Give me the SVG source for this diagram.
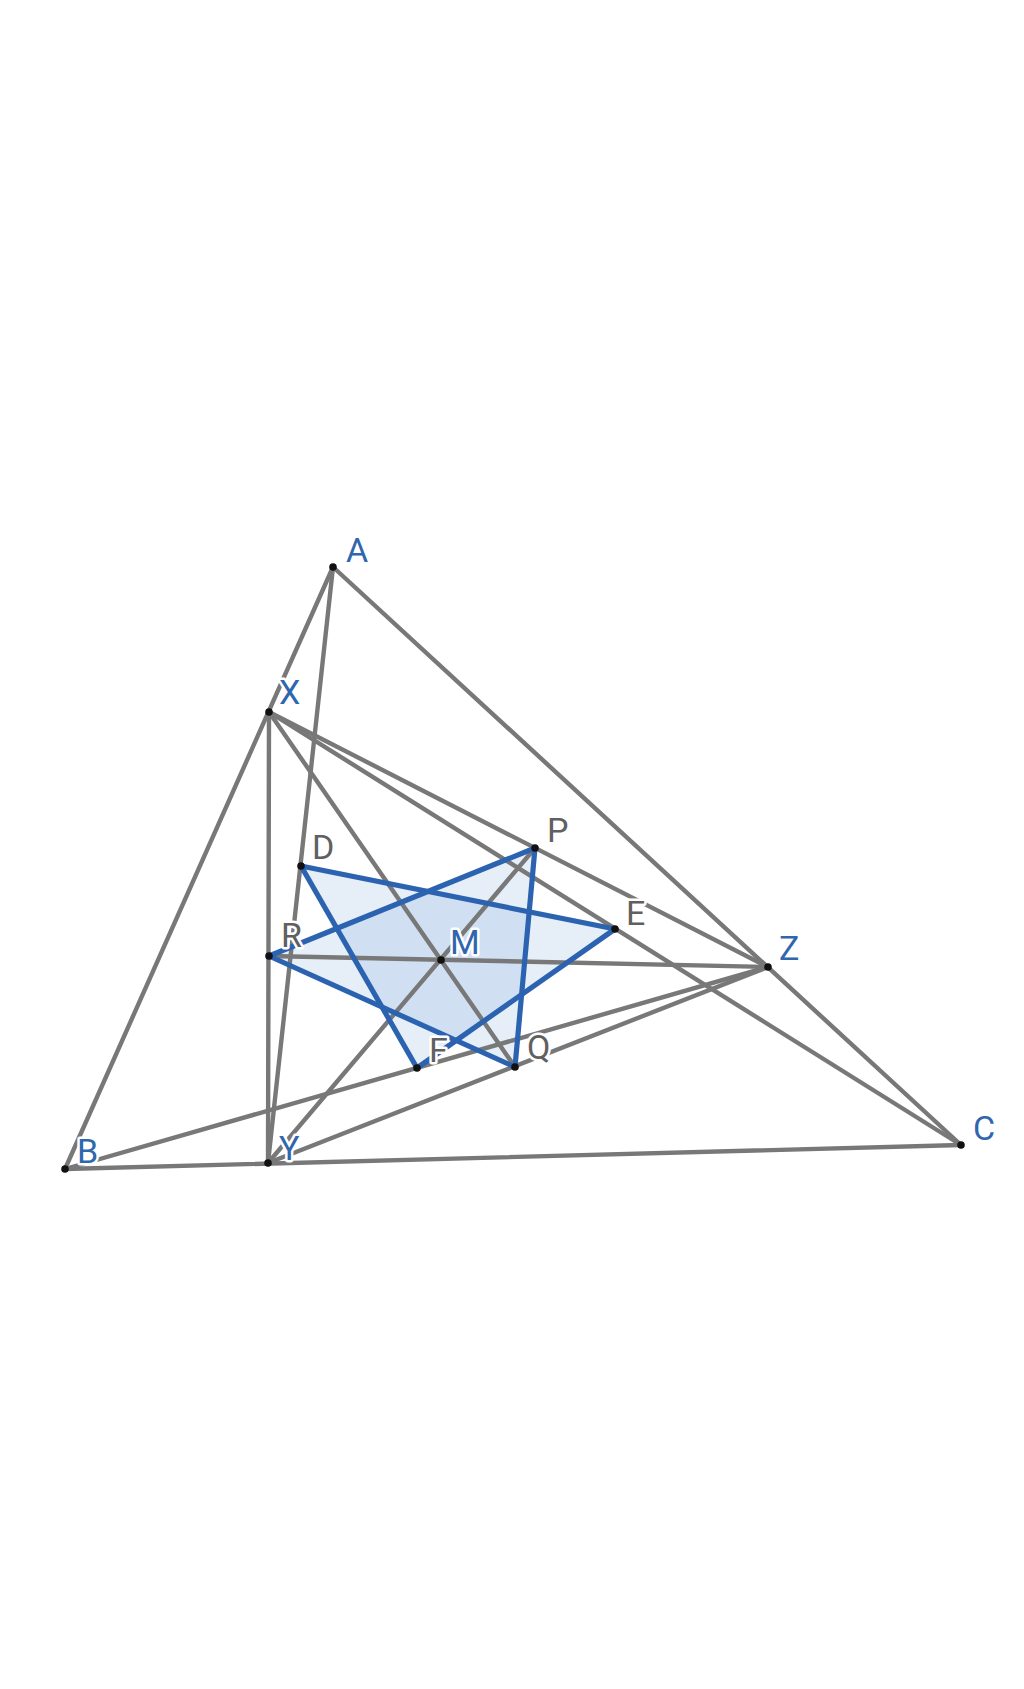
<svg xmlns="http://www.w3.org/2000/svg" width="1024" height="1689" viewBox="0 0 1024 1689">
<style>
.g{stroke:#787878;stroke-width:4.4;fill:none;stroke-linecap:round}
.b{stroke:#2c63b0;stroke-width:5.2;fill:none;stroke-linecap:round;stroke-linejoin:round}
.f{fill:#3f7bc8;fill-opacity:0.13;stroke:none}
.pt{fill:#111}
.lb{font-family:Roboto,"Liberation Sans",sans-serif;font-size:34px;stroke:#fff;stroke-width:5;paint-order:stroke;stroke-linejoin:round}
.bl{fill:#2f66ad}
.gy{fill:#606060}
</style>
<rect width="1024" height="1689" fill="#fff"/>
<g id="fills">
<polygon class="f" points="301,866 615,929 417,1068"/>
<polygon class="f" points="269,956 535,848 515,1067"/>
</g>
<g id="connectors">
<line class="g" x1="333" y1="567" x2="65" y2="1169"/>
<line class="g" x1="333" y1="567" x2="961" y2="1145"/>
<line class="g" x1="65" y1="1169" x2="961" y2="1145"/>
<line class="g" x1="333" y1="567" x2="268" y2="1163"/>
<line class="g" x1="269" y1="712" x2="268" y2="1163"/>
<line class="g" x1="269" y1="712" x2="768" y2="967"/>
<line class="g" x1="269" y1="712" x2="961" y2="1145"/>
<line class="g" x1="269" y1="712" x2="515" y2="1067"/>
<line class="g" x1="268" y1="1163" x2="535" y2="848"/>
<line class="g" x1="269" y1="956" x2="768" y2="967"/>
<line class="g" x1="65" y1="1169" x2="768" y2="967"/>
<line class="g" x1="268" y1="1163" x2="768" y2="967"/>
<polygon class="b" points="301,866 615,929 417,1068"/>
<polygon class="b" points="269,956 535,848 515,1067"/>
</g>
<g id="A"><circle class="pt" cx="333" cy="567" r="3.8"/><text class="lb bl" x="346" y="562">A</text></g>
<g id="B"><circle class="pt" cx="65" cy="1169" r="3.8"/><text class="lb bl" x="77" y="1163">B</text></g>
<g id="C"><circle class="pt" cx="961" cy="1145" r="3.8"/><text class="lb bl" x="973" y="1140">C</text></g>
<g id="X"><circle class="pt" cx="269" cy="712" r="3.8"/><text class="lb bl" x="279" y="704">X</text></g>
<g id="Y"><circle class="pt" cx="268" cy="1163" r="3.8"/><text class="lb bl" x="279" y="1160">Y</text></g>
<g id="Z"><circle class="pt" cx="768" cy="967" r="3.8"/><text class="lb bl" x="779" y="960">Z</text></g>
<g id="M"><circle class="pt" cx="441" cy="960" r="3.8"/><text class="lb bl" x="450" y="954">M</text></g>
<g id="D"><circle class="pt" cx="301" cy="866" r="3.8"/><text class="lb gy" x="312" y="859">D</text></g>
<g id="E"><circle class="pt" cx="615" cy="929" r="3.8"/><text class="lb gy" x="626" y="925">E</text></g>
<g id="F"><circle class="pt" cx="417" cy="1068" r="3.8"/><text class="lb gy" x="429" y="1062">F</text></g>
<g id="P"><circle class="pt" cx="535" cy="848" r="3.8"/><text class="lb gy" x="547" y="842">P</text></g>
<g id="Q"><circle class="pt" cx="515" cy="1067" r="3.8"/><text class="lb gy" x="527" y="1059">Q</text></g>
<g id="R"><circle class="pt" cx="269" cy="956" r="3.8"/><text class="lb gy" x="281" y="947">R</text></g>
</svg>
